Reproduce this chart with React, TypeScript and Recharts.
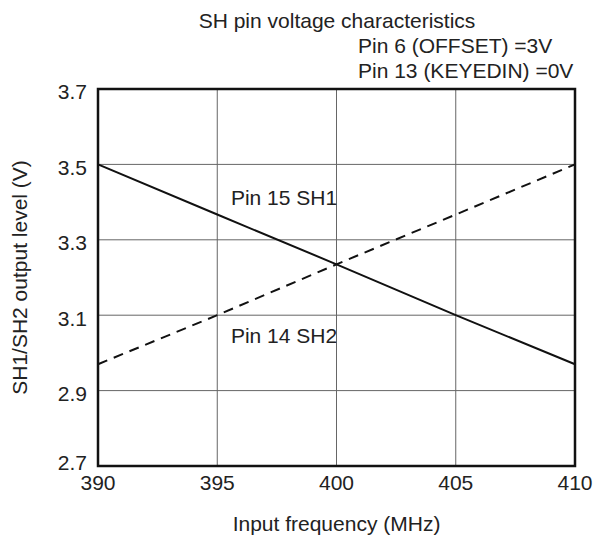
import React from 'react';
import {
  LineChart,
  Line,
  XAxis,
  YAxis,
  CartesianGrid,
  ReferenceArea,
  ReferenceDot,
  Label,
} from 'recharts';

const frequencies = [390, 395, 400, 405, 410];
const sh1Values = [3.5, 3.367, 3.235, 3.1, 2.97];
const sh2Values = [2.97, 3.1, 3.235, 3.367, 3.5];
const xTicks = [390, 395, 400, 405, 410];
const yTicks = [2.7, 2.9, 3.1, 3.3, 3.5, 3.7];

const data = frequencies.map((f, i) => ({ f, sh1: sh1Values[i], sh2: sh2Values[i] }));

const FONT = '"Liberation Sans", Arial, Helvetica, sans-serif';
const FS = 21;
const TXT = '#222';

const YTick = (props: any) => {
  const { x, y, payload } = props;
  const shift = payload.value <= 2.7 ? -3 : 3;
  return (
    <text x={x} y={y + shift} dy="0.355em" textAnchor="end" fontFamily={FONT} fontSize={FS} fill={TXT}>
      {payload.value.toFixed(1)}
    </text>
  );
};

const XTick = (props: any) => {
  const { x, y, payload } = props;
  return (
    <text x={x} y={y} dy="0.71em" textAnchor="middle" fontFamily={FONT} fontSize={FS} fill={TXT}>
      {payload.value}
    </text>
  );
};

const YTitle = (props: any) => {
  const vb = props.viewBox || {};
  const cx = 20;
  const cy = (vb.y ?? 89) + (vb.height ?? 377) / 2;
  return (
    <text
      x={cx}
      y={cy}
      dy="0.355em"
      textAnchor="middle"
      transform={`rotate(-90, ${cx}, ${cy})`}
      fontFamily={FONT}
      fontSize={FS}
      fill={TXT}
    >
      SH1/SH2 output level (V)
    </text>
  );
};

export default function App() {
  return (
    <div style={{ position: 'absolute', left: 0, top: 0, width: 594, height: 541, background: '#fff' }}>
      <LineChart
        width={594}
        height={541}
        data={data}
        margin={{ top: 89, right: 19, bottom: 0, left: 0 }}
      >
        <CartesianGrid stroke="#666" strokeWidth={1} />
        <XAxis
          dataKey="f"
          type="number"
          domain={[390, 410]}
          ticks={xTicks}
          height={75}
          tickSize={0}
          tickMargin={9}
          axisLine={false}
          tickLine={false}
          tick={<XTick />}
          interval={0}
        >
          <Label
            value="Input frequency (MHz)"
            position="insideBottom"
            offset={10}
            style={{ fontFamily: FONT, fontSize: FS, fill: TXT }}
          />
        </XAxis>
        <YAxis
          type="number"
          domain={[2.7, 3.7]}
          ticks={yTicks}
          width={98}
          tickSize={0}
          tickMargin={11}
          axisLine={false}
          tickLine={false}
          tick={<YTick />}
          interval={0}
          label={<YTitle />}
        />
        <ReferenceArea
          x1={390}
          x2={410}
          y1={2.7}
          y2={3.7}
          fill="none"
          fillOpacity={0}
          stroke="#111"
          strokeWidth={2.5}
          ifOverflow="visible"
        />
        <Line
          type="linear"
          dataKey="sh1"
          stroke="#111"
          strokeWidth={2}
          dot={false}
          isAnimationActive={false}
        />
        <Line
          type="linear"
          dataKey="sh2"
          stroke="#111"
          strokeWidth={2}
          strokeDasharray="10 7"
          dot={false}
          isAnimationActive={false}
        />
        <ReferenceDot
          x={397.8}
          y={3.411}
          r={0}
          fill="none"
          stroke="none"
          label={{ value: 'Pin 15 SH1', position: 'center', style: { fontFamily: FONT, fontSize: FS, fill: TXT } }}
        />
        <ReferenceDot
          x={397.8}
          y={3.047}
          r={0}
          fill="none"
          stroke="none"
          label={{ value: 'Pin 14 SH2', position: 'center', style: { fontFamily: FONT, fontSize: FS, fill: TXT } }}
        />
      </LineChart>
      <svg
        width={594}
        height={89}
        style={{ position: 'absolute', left: 0, top: 0, pointerEvents: 'none' }}
      >
        <text x={337} y={28} textAnchor="middle" fontFamily={FONT} fontSize={FS} fill={TXT}>
          SH pin voltage characteristics
        </text>
        <text x={358} y={53} textAnchor="start" fontFamily={FONT} fontSize={FS} fill={TXT}>
          Pin 6 (OFFSET) =3V
        </text>
        <text x={358} y={78} textAnchor="start" fontFamily={FONT} fontSize={FS} fill={TXT}>
          Pin 13 (KEYEDIN) =0V
        </text>
      </svg>
    </div>
  );
}
